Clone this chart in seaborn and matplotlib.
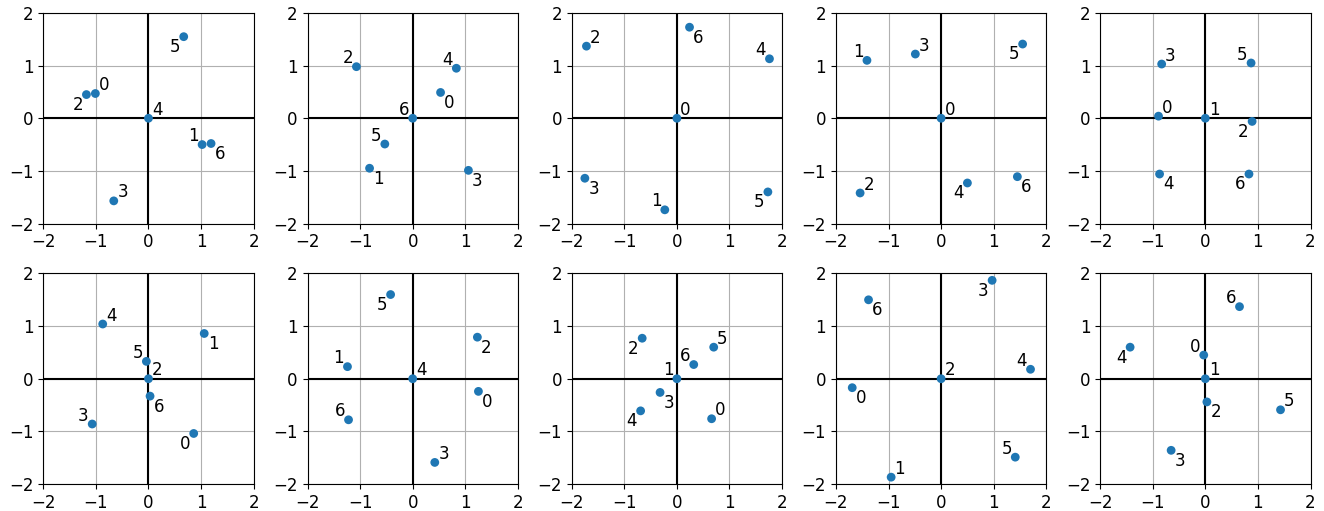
import numpy as np
import pandas as pd
import matplotlib
matplotlib.use("Agg")
import matplotlib.pyplot as plt
import seaborn as sns

# Node labels (same for every panel)
nodes = [0, 1, 2, 3, 4, 5, 6]

# Coordinates per panel (x, y for nodes 0..6)
p1_x = [-1.01, 1.02, -1.18, -0.66, 0.00, 0.67, 1.19]
p1_y = [0.47, -0.50, 0.45, -1.57, 0.00, 1.55, -0.48]
p2_x = [0.53, -0.82, -1.07, 1.06, 0.83, -0.53, 0.00]
p2_y = [0.49, -0.95, 0.98, -0.99, 0.95, -0.49, 0.00]
p3_x = [0.00, -0.23, -1.72, -1.75, 1.76, 1.73, 0.24]
p3_y = [0.00, -1.74, 1.37, -1.14, 1.13, -1.40, 1.73]
p4_x = [0.00, -1.41, -1.54, -0.49, 0.50, 1.55, 1.45]
p4_y = [0.00, 1.10, -1.42, 1.22, -1.23, 1.41, -1.11]
p5_x = [-0.89, 0.00, 0.89, -0.83, -0.87, 0.87, 0.83]
p5_y = [0.04, 0.00, -0.06, 1.03, -1.06, 1.05, -1.06]
p6_x = [0.86, 1.06, 0.00, -1.07, -0.87, -0.04, 0.03]
p6_y = [-1.04, 0.86, 0.00, -0.86, 1.04, 0.33, -0.33]
p7_x = [1.25, -1.24, 1.23, 0.42, 0.00, -0.42, -1.22]
p7_y = [-0.24, 0.23, 0.79, -1.59, 0.00, 1.60, -0.78]
p8_x = [0.66, 0.00, -0.66, -0.32, -0.69, 0.70, 0.32]
p8_y = [-0.76, 0.00, 0.77, -0.26, -0.61, 0.60, 0.27]
p9_x = [-1.69, -0.95, 0.00, 0.97, 1.70, 1.41, -1.38]
p9_y = [-0.17, -1.87, 0.00, 1.87, 0.18, -1.49, 1.50]
p10_x = [-0.03, 0.00, 0.03, -0.65, -1.43, 1.43, 0.65]
p10_y = [0.45, 0.00, -0.44, -1.36, 0.60, -0.59, 1.37]

panels_x = [p1_x, p2_x, p3_x, p4_x, p5_x, p6_x, p7_x, p8_x, p9_x, p10_x]
panels_y = [p1_y, p2_y, p3_y, p4_y, p5_y, p6_y, p7_y, p8_y, p9_y, p10_y]

# label placement (style): direction of each node label per panel
label_dirs = [
    ["ur", "ul", "ll", "ur", "ur", "ll", "lr"],
    ["lr", "lr", "ul", "lr", "ul", "ul", "ul"],
    ["ur", "ul", "ur", "lr", "ul", "ll", "lr"],
    ["ur", "ul", "ur", "ur", "ll", "ll", "lr"],
    ["ur", "ur", "ll", "ur", "lr", "ul", "ll"],
    ["ll", "lr", "ur", "ul", "ur", "ul", "lr"],
    ["lr", "ul", "lr", "ur", "ur", "ll", "ul"],
    ["ur", "ul", "ll", "lr", "ll", "ur", "ul"],
    ["lr", "ur", "ur", "ll", "ul", "ul", "lr"],
    ["ul", "ur", "lr", "lr", "ll", "ur", "ul"],
]

ticks = [-2, -1, 0, 1, 2]

W, H = 1324, 511
fig, axes = plt.subplots(2, 5, figsize=(W / 100, H / 100), dpi=100)
fig.subplots_adjust(left=43.3 / W, right=1310.5 / W, top=1 - 13.0 / H,
                    bottom=1 - 484.0 / H, wspace=0.256, hspace=0.2375)

for k, ax in enumerate(axes.flat):
    df = pd.DataFrame({"x": panels_x[k], "y": panels_y[k], "node": nodes})
    ax.grid(True, color="#b0b0b0", linewidth=0.8, zorder=0)
    ax.axhline(0, color="black", linewidth=1.5, zorder=1)
    ax.axvline(0, color="black", linewidth=1.5, zorder=1)
    sns.scatterplot(data=df, x="x", y="y", ax=ax, color="#1f77b4", s=40,
                    edgecolor="none", zorder=3, legend=False)
    for i, row in df.iterrows():
        d = label_dirs[k][i]
        if d == "ur":
            off, ha, va = (2.5, 2.5), "left", "baseline"
        elif d == "ul":
            off, ha, va = (-2.5, 2.5), "right", "baseline"
        elif d == "lr":
            off, ha, va = (2.5, -1.0), "left", "top"
        else:
            off, ha, va = (-2.5, -1.0), "right", "top"
        ax.annotate(str(int(row["node"])), (row["x"], row["y"]), xytext=off,
                    textcoords="offset points", ha=ha, va=va, fontsize=12,
                    zorder=4)
    ax.set_xlim(-2, 2)
    ax.set_ylim(-2, 2)
    ax.set_xticks(ticks)
    ax.set_yticks(ticks)
    ax.tick_params(labelsize=12)
    ax.set_xlabel("")
    ax.set_ylabel("")
    ax.set_axisbelow(True)

fig.savefig("out.png", dpi=100)
